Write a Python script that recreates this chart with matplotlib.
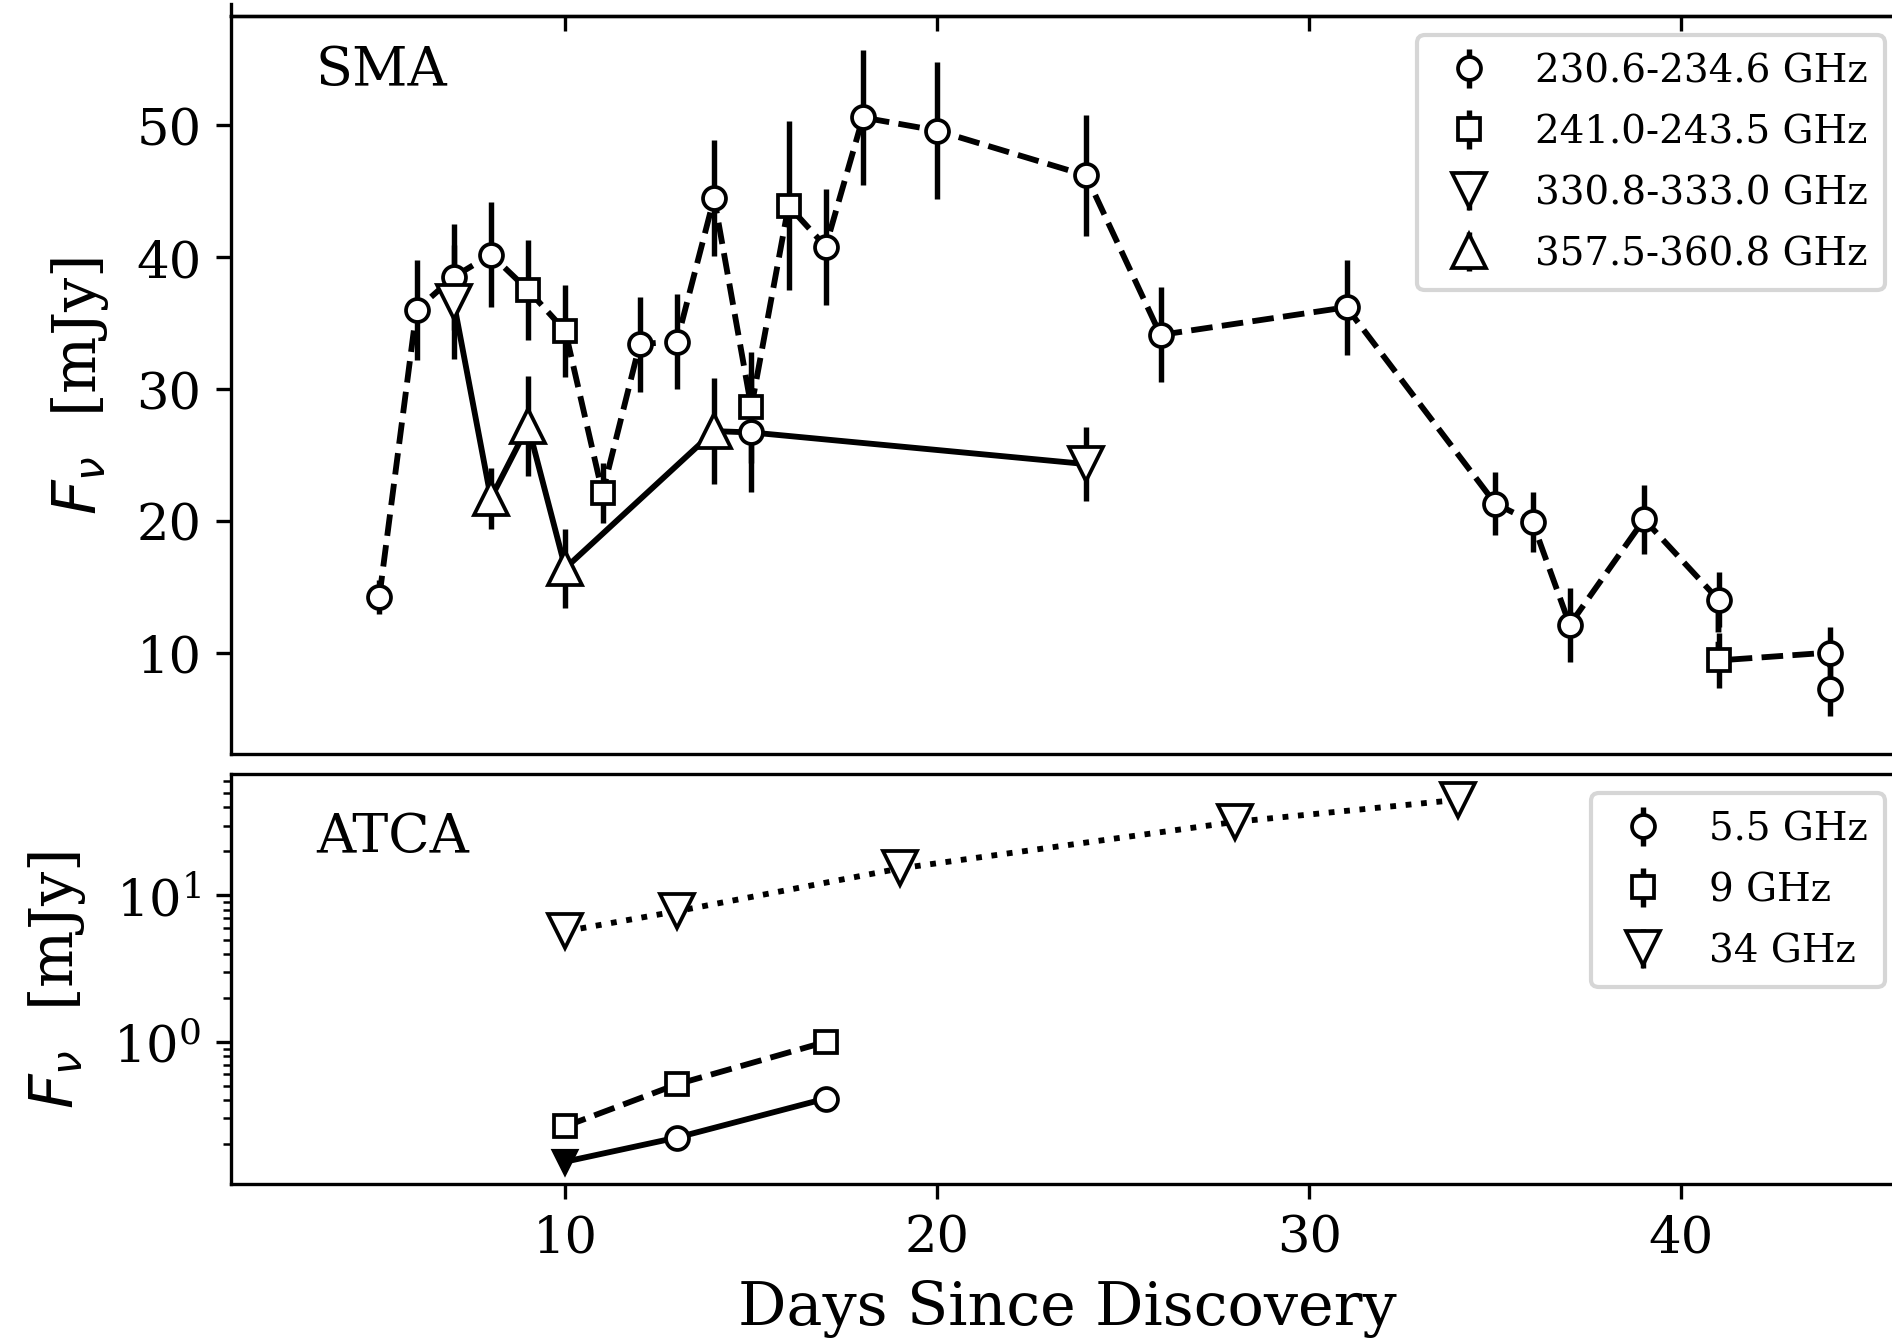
import numpy as np
import matplotlib
matplotlib.use("Agg")
import matplotlib.pyplot as plt

plt.rcParams['font.family'] = ['DejaVu Serif']
plt.rcParams['mathtext.fontset'] = 'dejavusans'

# ---------------- SMA data (top panel) ----------------
circ_day = [5, 6, 7, 8, 12, 13, 14, 15, 17, 18, 20, 24, 26, 31, 35, 36, 37, 39, 41, 44, 44]
circ_flux = [14.2, 36.0, 38.5, 40.2, 33.4, 33.6, 44.5, 26.7, 40.8, 50.6, 49.6, 46.2, 34.1,
             36.2, 21.3, 19.9, 12.1, 20.1, 14.0, 10.0, 7.2]
circ_err = [1.3, 3.8, 4.0, 4.0, 3.6, 3.6, 4.4, 4.5, 4.4, 5.1, 5.2, 4.6, 3.6, 3.6, 2.4, 2.3,
            2.8, 2.6, 2.1, 1.9, 2.0]
# which connecting line each circle belongs to
circ_line = ['d', 'd', 'd', 'd', 'd', 'd', 'd', 's', 'd', 'd', 'd', 'd', 'd', 'd', 'd', 'd',
             'd', 'd', 'd', 'd', 'd']

sq_day = [9, 10, 11, 15, 16, 41]
sq_flux = [37.5, 34.4, 22.1, 28.6, 43.9, 9.4]
sq_err = [3.8, 3.5, 2.3, 4.2, 6.4, 2.1]

dn_day = [7, 24]
dn_flux = [36.6, 24.3]
dn_err = [4.3, 2.8]

up_day = [8, 9, 10, 14]
up_flux = [21.7, 27.2, 16.4, 26.8]
up_err = [2.3, 3.8, 3.0, 4.0]

sma_labels = ['230.6-234.6 GHz', '241.0-243.5 GHz', '330.8-333.0 GHz', '357.5-360.8 GHz']

# ---------------- ATCA data (bottom panel) ----------------
a55_day = [13, 17]
a55_flux = [0.222, 0.41]
a55_err = [0.02, 0.02]
a55_lim_day = [10]
a55_lim_flux = [0.152]

a9_day = [10, 13, 17]
a9_flux = [0.265, 0.513, 1.0]
a9_err = [0.025, 0.03, 0.04]

a34_day = [10, 13, 19, 28, 34]
a34_flux = [5.7, 7.8, 15.3, 31.8, 45.0]
a34_err = [0.2, 0.3, 0.5, 1.0, 1.3]

atca_labels = ['5.5 GHz', '9 GHz', '34 GHz']

# ---------------- figure ----------------
W, H = 1892, 1339
fig = plt.figure(figsize=(W / 300, H / 300), dpi=300)

def frac(px_left, px_right, px_top, px_bottom):
    return [px_left / W, 1 - px_bottom / H, (px_right - px_left) / W, (px_bottom - px_top) / H]

ax_top = fig.add_axes(frac(230.5, 1904.5, 17, 755))
ax_bot = fig.add_axes(frac(230.5, 1904.5, 775, 1185))
ax_up = fig.add_axes(frac(230.5, 1904.5, 5, 17))  # cropped panel above

for ax in (ax_top, ax_bot, ax_up):
    ax.set_xlim(1, 46)
    for s in ax.spines.values():
        s.set_linewidth(0.8)

ax_up.spines['top'].set_visible(False)
ax_up.spines['right'].set_visible(False)
ax_up.set_yticks([])
ax_up.set_xticks([10, 20, 30, 40])
ax_up.tick_params(axis='x', labelbottom=False, length=3.5, width=0.8)
ax_up.patch.set_alpha(0)

lw = 1.4
ms_c = 5.5
ms_t = 8.0
mew = 0.9

# dashed line: circles (group d) and squares, in time order
dash_pts = [(d, f) for d, f, g in zip(circ_day, circ_flux, circ_line) if g == 'd']
dash_pts += list(zip(sq_day, sq_flux))
dash_pts.sort(key=lambda p: (p[0], -p[1]))
ax_top.plot([p[0] for p in dash_pts], [p[1] for p in dash_pts], color='k', ls='--', lw=lw, zorder=1)

solid_pts = [(d, f) for d, f, g in zip(circ_day, circ_flux, circ_line) if g == 's']
solid_pts += list(zip(dn_day, dn_flux)) + list(zip(up_day, up_flux))
solid_pts.sort(key=lambda p: p[0])
ax_top.plot([p[0] for p in solid_pts], [p[1] for p in solid_pts], color='k', ls='-', lw=lw, zorder=1)

ekw = dict(ls='none', ecolor='k', elinewidth=1.3, capsize=0, mfc='white', mec='k', mew=mew, zorder=3)
ax_top.errorbar(circ_day, circ_flux, yerr=circ_err, fmt='o', ms=ms_c, label=sma_labels[0], **ekw)
ax_top.errorbar(sq_day, sq_flux, yerr=sq_err, fmt='s', ms=ms_c, label=sma_labels[1], **ekw)
ax_top.errorbar(dn_day, dn_flux, yerr=dn_err, fmt='v', ms=ms_t, label=sma_labels[2], **ekw)
ax_top.errorbar(up_day, up_flux, yerr=up_err, fmt='^', ms=ms_t, label=sma_labels[3], **ekw)

ax_top.set_ylim(2.3, 58.3)
ax_top.set_yticks([10, 20, 30, 40, 50])
ax_top.tick_params(axis='x', bottom=False, labelbottom=False)
ax_top.tick_params(axis='y', labelsize=12.3, length=3.5, width=0.8)
ax_top.set_ylabel(r'$F_\nu$  [mJy]', fontsize=14.5, labelpad=6)
ax_top.text(0.051, 0.962, 'SMA', transform=ax_top.transAxes, fontsize=13, ha='left', va='top')
ax_top.legend(loc='upper right', fontsize=9.3, handlelength=1.8, borderaxespad=0.5,
              labelspacing=0.62, borderpad=0.45)

# bottom panel
ax_bot.set_yscale('log')
ax_bot.plot(a55_lim_day + a55_day, a55_lim_flux + a55_flux, color='k', ls='-', lw=lw, zorder=1)
ax_bot.plot(a9_day, a9_flux, color='k', ls='--', lw=lw, zorder=1)
ax_bot.plot(a34_day, a34_flux, color='k', ls=':', lw=lw, zorder=1)
ax_bot.errorbar(a55_day, a55_flux, yerr=a55_err, fmt='o', ms=ms_c, label=atca_labels[0], **ekw)
ax_bot.errorbar(a9_day, a9_flux, yerr=a9_err, fmt='s', ms=ms_c, label=atca_labels[1], **ekw)
ax_bot.errorbar(a34_day, a34_flux, yerr=a34_err, fmt='v', ms=ms_t, label=atca_labels[2], **ekw)
ax_bot.plot(a55_lim_day, a55_lim_flux, ls='none', marker='v', ms=ms_c, color='k', zorder=3)

ax_bot.set_ylim(0.107, 67.5)
ax_bot.set_xticks([10, 20, 30, 40])
ax_bot.tick_params(axis='both', which='major', labelsize=12.3, length=3.5, width=0.8)
ax_bot.tick_params(axis='y', which='minor', length=2, width=0.6)
ax_bot.set_ylabel(r'$F_\nu$  [mJy]', fontsize=14.5, labelpad=6)
ax_bot.set_xlabel('Days Since Discovery', fontsize=14.5)
ax_bot.text(0.051, 0.91, 'ATCA', transform=ax_bot.transAxes, fontsize=13, ha='left', va='top')
ax_bot.legend(loc='upper right', fontsize=9.3, handlelength=1.8, borderaxespad=0.5,
              labelspacing=0.62, borderpad=0.45)

fig.savefig('out.png', dpi=300)
